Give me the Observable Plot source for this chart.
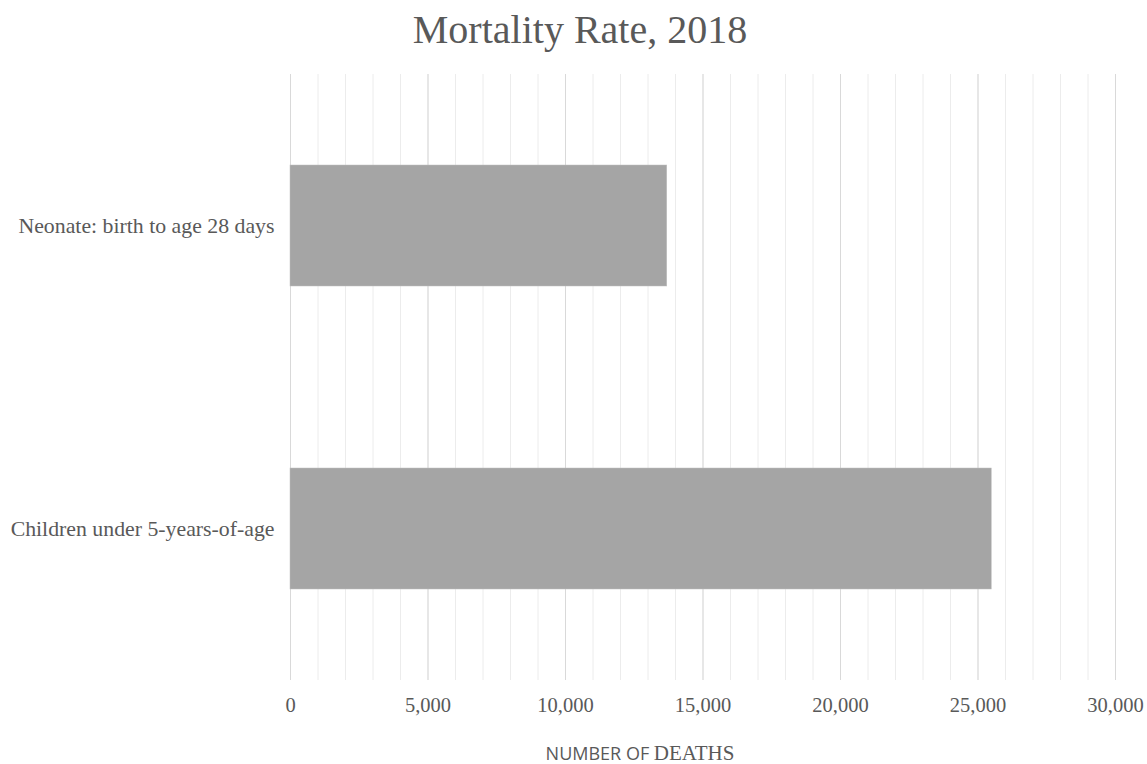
<!DOCTYPE html>
<html>
<head>
<meta charset="utf-8">
<script src="https://cdn.jsdelivr.net/npm/d3@7"></script>
<script src="https://cdn.jsdelivr.net/npm/@observablehq/plot@0.6"></script>
<style>
  html, body { margin: 0; padding: 0; background: #fff; }
  #wrap { position: relative; width: 1147px; height: 764px; overflow: hidden; }
  #title { position: absolute; left: 0; top: 10px; width: 1160px; text-align: center; line-height: 1;
    font-family: 'Liberation Serif', 'Times New Roman', 'DejaVu Serif', serif; font-size: 40px; color: #595959; }
  #chart { position: absolute; left: 0; top: 62px; }
  #xlabel { position: absolute; left: 480px; top: 743px; width: 320px; height: 20px; text-align: center;
    color: #595959; white-space: nowrap; line-height: 20px; }
  #xlabel .s { font-family: 'Open Sans', 'Liberation Sans', sans-serif; font-size: 18px; }
  #xlabel .r { font-family: 'Liberation Serif', 'Times New Roman', serif; font-size: 21px; }
  svg text { font-family: 'Liberation Serif', 'Times New Roman', 'DejaVu Serif', serif !important; }
</style>
</head>
<body>
<div id="wrap">
  <div id="title">Mortality Rate, 2018</div>
  <div id="chart"></div>
  <div id="xlabel"><span class="s">NUMBER OF </span><span class="r">DEATHS</span></div>
</div>
<script>
const categories = ["Neonate: birth to age 28 days", "Children under 5-years-of-age"];
const deaths = [13700, 25500];
const xTicks = [0, 5000, 10000, 15000, 20000, 25000, 30000];
const minorTicks = d3.range(0, 30001, 1000);

const data = categories.map((c, i) => ({category: c, value: deaths[i]}));

const plot = Plot.plot({
  width: 1147,
  height: 664,
  marginLeft: 290,
  marginRight: 32,
  marginTop: 12,
  marginBottom: 46,
  style: {fontFamily: "'Liberation Serif', 'Times New Roman', serif", fontSize: "20px", color: "#595959", background: "#fff"},
  x: {domain: [0, 30000], ticks: xTicks, tickFormat: d3.format(","), label: null},
  y: {domain: categories, paddingInner: 0.6, paddingOuter: 0.3, label: null},
  marks: [
    Plot.ruleX(minorTicks, {stroke: "#ececec", strokeWidth: 1}),
    Plot.ruleX(xTicks, {stroke: "#d9d9d9", strokeWidth: 1}),
    Plot.barX(data, {x: "value", y: "category", fill: "#a5a5a5", stroke: "#bfbfbf", strokeWidth: 0.5}),
    Plot.axisX({ticks: xTicks, tickFormat: d3.format(","), tickSize: 0, tickPadding: 17, fontSize: 20.5, label: null}),
    Plot.axisY({tickSize: 0, tickPadding: 16, fontSize: 21.8, label: null})
  ]
});
document.getElementById("chart").appendChild(plot);
</script>
</body>
</html>
